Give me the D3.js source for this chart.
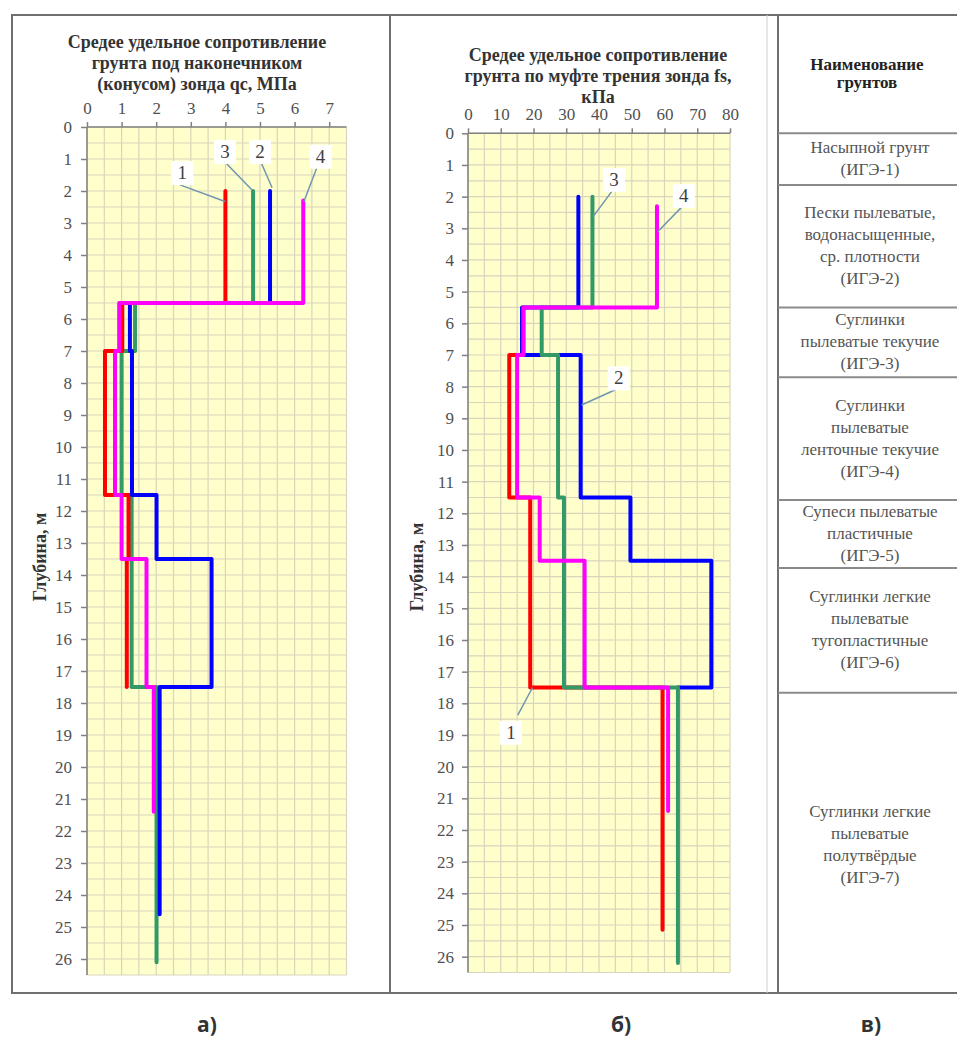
<!DOCTYPE html>
<html>
<head>
<meta charset="utf-8">
<script src="https://cdn.jsdelivr.net/npm/d3@7"></script>
<style>
    body { margin: 0; background: #fff; }
</style>
</head>
<body>
<svg width="957" height="1039"></svg>
<script>
// ступенчатые профили: [глубина от, глубина до, значение]
const qc1 = [[2, 5.5, 4.0], [5.5, 7, 1.02], [7, 11.5, 0.52], [11.5, 13.5, 1.2], [13.5, 17.5, 1.15]];
const qc2 = [[2, 5.5, 5.29], [5.5, 7, 1.24], [7, 11.5, 1.3], [11.5, 13.5, 2.01], [13.5, 17.5, 3.6], [17.5, 24.6, 2.1]];
const qc3 = [[2, 5.5, 4.8], [5.5, 7, 1.39], [7, 11.5, 1.0], [11.5, 17.5, 1.29], [17.5, 26.1, 2.01]];
const qc4 = [[2.3, 5.5, 6.25], [5.5, 7, 0.93], [7, 11.5, 0.81], [11.5, 13.5, 1.0], [13.5, 17.5, 1.72], [17.5, 21.4, 1.93]];

const fs1 = [[5.5, 7, 16.9], [7, 11.5, 12.6], [11.5, 17.5, 19.0], [17.5, 25.15, 59.4]];
const fs2 = [[2, 5.5, 33.7], [5.5, 7, 16.5], [7, 11.5, 34.4], [11.5, 13.5, 49.6], [13.5, 17.5, 74.3], [17.5, 17.5, 64]];
const fs3 = [[2, 5.5, 38.0], [5.5, 7, 22.5], [7, 11.5, 27.5], [11.5, 17.5, 29.3], [17.5, 26.2, 64.1]];
const fs4 = [[2.3, 5.5, 57.7], [5.5, 7, 16.9], [7, 11.5, 15.0], [11.5, 13.5, 21.9], [13.5, 17.5, 35.6], [17.5, 21.4, 61.1]];

const qcTicks = [0, 1, 2, 3, 4, 5, 6, 7];
const fsTicks = [0, 10, 20, 30, 40, 50, 60, 70, 80];
const depthTicks = d3.range(0, 27);

// выноски: номер, [значение, глубина] подписи, начало линии, конец линии
const qcCallouts = [
    ["1", [2.75, 1.44], [2.69, 1.81], [3.99, 2.33]],
    ["3", [3.99, 0.78], [3.93, 1.03], [4.77, 1.97]],
    ["2", [5.0, 0.78], [5.0, 1.03], [5.35, 1.9]],
    ["4", [6.75, 0.93], [6.64, 1.28], [6.27, 2.33]],
];
const fsCallouts = [
    ["3", [44.6, 1.47], [44.6, 1.74], [38.2, 2.63]],
    ["4", [65.9, 1.98], [65.9, 2.26], [58.0, 3.1]],
    ["2", [46.0, 7.74], [46.0, 8.05], [34.7, 8.58]],
    ["1", [13.1, 18.93], [15.2, 18.37], [19.7, 17.5]],
];

const qcTitle = ["Средее удельное сопротивление", "грунта под наконечником", "(конусом) зонда qc, МПа"];
const fsTitle = ["Средее удельное сопротивление", "грунта по муфте трения зонда fs,", "кПа"];

const soilNames = [
    ["Насыпной грунт", "(ИГЭ-1)"],
    ["Пески пылеватые,", "водонасыщенные,", "ср. плотности", "(ИГЭ-2)"],
    ["Суглинки", "пылеватые текучие", "(ИГЭ-3)"],
    ["Суглинки", "пылеватые", "ленточные текучие", "(ИГЭ-4)"],
    ["Супеси пылеватые", "пластичные", "(ИГЭ-5)"],
    ["Суглинки легкие", "пылеватые", "тугопластичные", "(ИГЭ-6)"],
    ["Суглинки легкие", "пылеватые", "полутвёрдые", "(ИГЭ-7)"],
];
const soilBounds = [0, 1.63, 5.5, 7.7, 11.58, 13.73, 17.67, 26.5];

const colors = { 1: "#ff0000", 2: "#0000ff", 3: "#339966", 4: "#ff00ff" };
const serif = "Liberation Serif";

const svg = d3.select("svg");
svg.append("rect").attr("width", 957).attr("height", 1039).attr("fill", "#fff");

// рамки панелей
svg.append("rect")
    .attr("x", 12).attr("y", 15).attr("width", 378).attr("height", 978)
    .attr("fill", "none").attr("stroke", "#707070").attr("stroke-width", 2);
svg.append("line")
    .attr("x1", 390).attr("x2", 957).attr("y1", 15).attr("y2", 15)
    .attr("stroke", "#707070").attr("stroke-width", 2);
svg.append("line")
    .attr("x1", 390).attr("x2", 957).attr("y1", 993).attr("y2", 993)
    .attr("stroke", "#707070").attr("stroke-width", 2);
svg.append("line")
    .attr("x1", 767).attr("x2", 767).attr("y1", 15).attr("y2", 993)
    .attr("stroke", "#d0d0d0").attr("stroke-width", 1);
svg.append("line")
    .attr("x1", 778).attr("x2", 778).attr("y1", 15).attr("y2", 993)
    .attr("stroke", "#707070").attr("stroke-width", 2);

function stepPoints(steps) {
    const pts = [];
    steps.forEach(s => {
        pts.push([s[2], s[0]]);
        pts.push([s[2], s[1]]);
    });
    return pts;
}

function drawPanel(opt) {
    const x = d3.scaleLinear().domain(opt.xDomain).range([opt.left, opt.right]);
    const y = d3.scaleLinear().domain([0, 26.5]).range([opt.top, opt.bottom]);
    const g = svg.append("g");

    g.append("rect")
        .attr("x", x(opt.xDomain[0])).attr("y", y(0))
        .attr("width", x(opt.xDomain[1]) - x(opt.xDomain[0]))
        .attr("height", y(26.5) - y(0))
        .attr("fill", "#ffffcc");

    // сетка
    g.append("g").selectAll("line")
        .data(d3.range(opt.xDomain[0], opt.xDomain[1] + 1e-9, opt.minor))
        .join("line")
        .attr("x1", d => x(d)).attr("x2", d => x(d))
        .attr("y1", y(0)).attr("y2", y(26.5))
        .attr("stroke", "#d9d5bc").attr("stroke-width", 1.2);
    g.append("g").selectAll("line")
        .data(d3.range(0, 26.5 + 1e-9, 0.5))
        .join("line")
        .attr("x1", x(opt.xDomain[0])).attr("x2", x(opt.xDomain[1]))
        .attr("y1", d => y(d)).attr("y2", d => y(d))
        .attr("stroke", "#d9d5bc").attr("stroke-width", 1.2);

    // оси
    const ax = g.append("g")
        .attr("transform", `translate(0,${y(0)})`)
        .call(d3.axisTop(x).tickValues(opt.ticks).tickSize(5).tickPadding(8));
    ax.select(".domain").attr("d", `M${x(opt.xDomain[0])},0H${x(opt.xDomain[1])}`);
    const ay = g.append("g")
        .attr("transform", `translate(${x(0)},0)`)
        .call(d3.axisLeft(y).tickValues(depthTicks).tickSize(6).tickPadding(opt.yPad));
    ay.select(".domain").attr("d", `M0,${y(0)}V${y(26.5)}`);
    [ax, ay].forEach(a => {
        a.attr("font-family", serif).attr("font-size", 17);
        a.select(".domain").attr("stroke", "#808080").attr("stroke-width", 1.5);
        a.selectAll(".tick line").attr("stroke", "#808080").attr("stroke-width", 1.5);
        a.selectAll(".tick text").attr("fill", "#505050");
    });

    // кривые
    const line = d3.line().x(d => x(d[0])).y(d => y(d[1]));
    opt.series.forEach(s => {
        g.append("path")
            .datum(stepPoints(s.steps))
            .attr("d", line)
            .attr("fill", "none")
            .attr("stroke", colors[s.id])
            .attr("stroke-width", 4)
            .attr("stroke-linejoin", "round")
            .attr("stroke-linecap", "round");
    });

    // выноски
    opt.callouts.forEach(c => {
        g.append("line")
            .attr("x1", x(c[2][0])).attr("y1", y(c[2][1]))
            .attr("x2", x(c[3][0])).attr("y2", y(c[3][1]))
            .attr("stroke", "#6f95b0").attr("stroke-width", 1.5);
        g.append("rect")
            .attr("x", x(c[1][0]) - 11).attr("y", y(c[1][1]) - 12)
            .attr("width", 22).attr("height", 24)
            .attr("fill", "#fff");
        g.append("text")
            .attr("x", x(c[1][0])).attr("y", y(c[1][1]) + 6)
            .attr("text-anchor", "middle")
            .attr("fill", "#404040")
            .attr("font-family", serif)
            .attr("font-size", 19)
            .text(c[0]);
    });

    // заголовок
    g.append("g").selectAll("text")
        .data(opt.title)
        .join("text")
        .attr("x", opt.titleX)
        .attr("y", (d, i) => opt.titleY + i * 21)
        .attr("text-anchor", "middle")
        .attr("font-family", serif)
        .attr("font-weight", "bold")
        .attr("fill", "#333")
        .attr("font-size", 18)
        .text(d => d);

    g.append("text")
        .attr("transform", `translate(${opt.yTitleX},${opt.yTitleY}) rotate(-90)`)
        .attr("text-anchor", "middle")
        .attr("font-family", serif)
        .attr("font-weight", "bold")
        .attr("fill", "#333")
        .attr("font-size", 18)
        .text("Глубина, м");

    return { x, y };
}

drawPanel({
    xDomain: [0, 7.5], left: 87, right: 346.5, top: 127, bottom: 975,
    minor: 0.5, ticks: qcTicks, yPad: 9,
    series: [{ id: 3, steps: qc3 }, { id: 1, steps: qc1 }, { id: 2, steps: qc2 }, { id: 4, steps: qc4 }],
    callouts: qcCallouts,
    title: qcTitle, titleX: 197, titleY: 48,
    yTitleX: 46, yTitleY: 557,
});

const right = drawPanel({
    xDomain: [0, 80], left: 468, right: 730, top: 133.3, bottom: 972.5,
    minor: 5, ticks: fsTicks, yPad: 8,
    series: [{ id: 1, steps: fs1 }, { id: 2, steps: fs2 }, { id: 3, steps: fs3 }, { id: 4, steps: fs4 }],
    callouts: fsCallouts,
    title: fsTitle, titleX: 598, titleY: 61,
    yTitleX: 423, yTitleY: 567,
});

// таблица грунтов
const ty = right.y;
const table = svg.append("g").attr("font-family", serif);
table.selectAll("line")
    .data(soilBounds.slice(0, -1))
    .join("line")
    .attr("x1", 778).attr("x2", 957)
    .attr("y1", d => ty(d)).attr("y2", d => ty(d))
    .attr("stroke", "#8a8a8a").attr("stroke-width", 2);

table.append("text")
    .attr("x", 867).attr("y", 70)
    .attr("text-anchor", "middle").attr("font-weight", "bold")
    .attr("fill", "#222").attr("font-size", 17)
    .text("Наименование");
table.append("text")
    .attr("x", 867).attr("y", 88)
    .attr("text-anchor", "middle").attr("font-weight", "bold")
    .attr("fill", "#222").attr("font-size", 17)
    .text("грунтов");

soilNames.forEach((lines, i) => {
    const top = ty(soilBounds[i]);
    const bot = ty(soilBounds[i + 1]);
    const step = 22;
    const mid = i === soilNames.length - 1 ? 845 : (top + bot) / 2;
    lines.forEach((t, j) => {
        table.append("text")
            .attr("x", 870)
            .attr("y", mid + (j - (lines.length - 1) / 2) * step + 5)
            .attr("text-anchor", "middle")
            .attr("fill", "#555")
            .attr("font-size", 17)
            .text(t);
    });
});

// подписи панелей
const panelLabels = [["а)", 207], ["б)", 621], ["в)", 871]];
svg.append("g").selectAll("text")
    .data(panelLabels)
    .join("text")
    .attr("x", d => d[1]).attr("y", 1032)
    .attr("text-anchor", "middle")
    .attr("font-weight", "bold")
    .attr("fill", "#333")
    .attr("font-family", "Open Sans")
    .attr("font-size", 21)
    .text(d => d[0]);
</script>
</body>
</html>
